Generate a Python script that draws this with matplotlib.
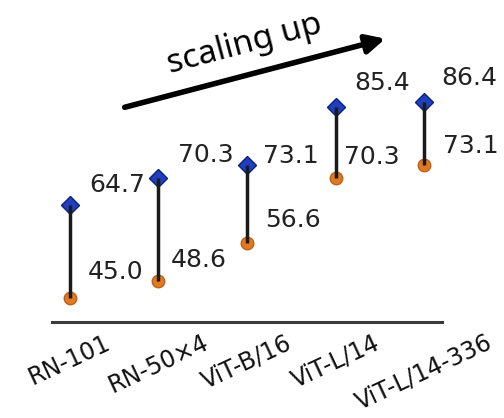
import numpy as np
import matplotlib.pyplot as plt

# zero-shot accuracy per CLIP backbone
models = ['RN-101', 'RN-50×4', 'ViT-B/16', 'ViT-L/14', 'ViT-L/14-336']
acc_low = [45.0, 48.6, 56.6, 70.3, 73.1]
acc_high = [64.7, 70.3, 73.1, 85.4, 86.4]

# label offsets in pixels (dx, dy up), placed by hand like the original
off_high = [(47, 20), (47, 23), (44, 9), (46, 24), (45, 24)]
off_low = [(46, 26), (40, 21), (46, 23), (36, 21), (47, 19)]

fig = plt.figure(figsize=(5.04, 4.18), dpi=100)
ax = fig.add_axes([0.1032, 0.2297, 0.7738, 0.567])

x = np.arange(len(models))
ax.vlines(x, acc_low, acc_high, color='#1a1a1a', lw=2.5, zorder=3)
ax.plot(x, acc_high, 'D', color='#1f3fbf', mec='#0b1f80', ms=9, zorder=2)
ax.plot(x, acc_low, 'o', color='#e07a22', mec='#c0601a', ms=9, zorder=2)

px = 72 / 100.
for xi, lo, hi, oh, ol in zip(x, acc_low, acc_high, off_high, off_low):
    ax.annotate('%.1f' % hi, (xi, hi), xytext=(oh[0] * px, oh[1] * px),
                textcoords='offset points', ha='center', va='center',
                fontsize=18, color='#222222')
    ax.annotate('%.1f' % lo, (xi, lo), xytext=(ol[0] * px, ol[1] * px),
                textcoords='offset points', ha='center', va='center',
                fontsize=18, color='#222222')

ax.set_xlim(-0.2, 4.2)
ax.set_ylim(40, 90)
ax.set_xticks(x)
ax.set_xticklabels(models, rotation=25, fontsize=17, color='#111111')
ax.tick_params(axis='x', length=0, pad=6)
ax.set_yticks([])
for s in ['top', 'right', 'left']:
    ax.spines[s].set_visible(False)
ax.spines['bottom'].set_linewidth(2.2)
ax.spines['bottom'].set_color('#3a3a3a')

# "scaling up" arrow
fig.patches.append(plt.matplotlib.patches.FancyArrowPatch(
    (122 / 504, 1 - 108 / 418), (388 / 504, 1 - 38 / 418),
    transform=fig.transFigure, arrowstyle='-|>', mutation_scale=28,
    lw=4, color='black'))
fig.text(245 / 504, 1 - 44 / 418, 'scaling up', rotation=15, fontsize=24,
         family='Noto Sans', ha='center', va='center')

fig.savefig('out.png', dpi=100)
